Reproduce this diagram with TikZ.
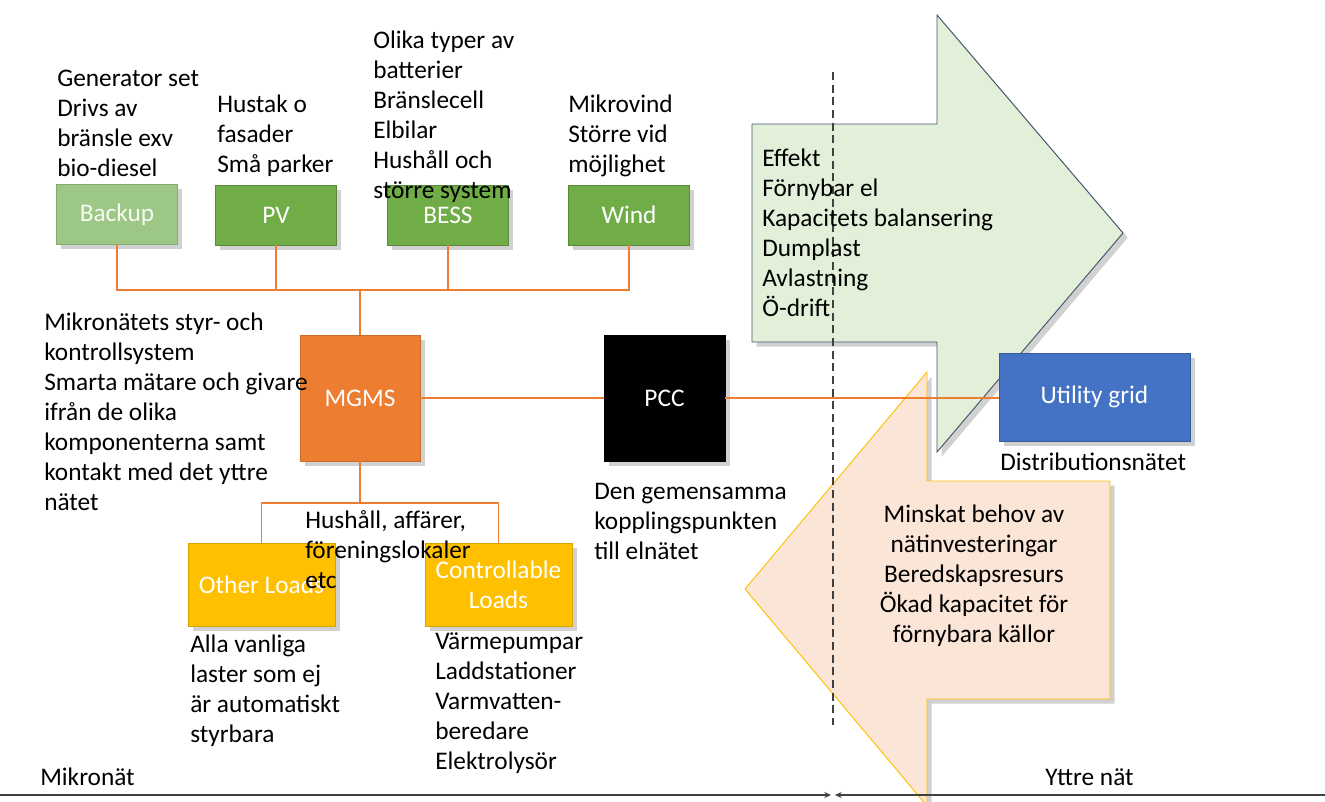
\documentclass[tikz,border=0pt]{standalone}
\usepackage{fontspec}
\setmainfont{Carlito}
\usetikzlibrary{arrows.meta,shadows}
\definecolor{cgreen}{HTML}{70AD47}
\definecolor{cbackup}{HTML}{9CC784}
\definecolor{corange}{HTML}{ED7D31}
\definecolor{cblue}{HTML}{4472C4}
\definecolor{cyellow}{HTML}{FFC000}
\definecolor{clgreen}{HTML}{E2F0D9}
\definecolor{cpeach}{HTML}{FBE5D6}
\definecolor{cslate}{HTML}{44546A}
\begin{document}
\begin{tikzpicture}[x=0.75pt,y=-0.75pt,
  shad/.style={drop shadow={shadow xshift=3.5pt,shadow yshift=-3.5pt,opacity=0.18,fill=black}},
  boxb/.style={shad,rectangle,inner sep=0pt,font=\fontsize{19}{22.5}\selectfont,text=white,align=center,line width=0.5pt},
  src/.style={boxb,minimum width=90.5pt,minimum height=45pt},
  txt/.style={inner sep=0pt,font=\fontsize{19}{22.5}\selectfont,align=left,anchor=west,text=black},
  conn/.style={draw=corange,line width=1.4pt},
  bline/.style={draw=black!75,line width=1.5pt}]
\useasboundingbox (0,0) rectangle (1325,801);

% big arrows
\draw[shad,fill=clgreen,draw=cslate,line width=0.7pt]
  (752,124) -- (937,124) -- (937,15) -- (1123,233) -- (937,452) -- (937,342) -- (752,342) -- cycle;
\draw[shad,fill=cpeach,draw=cyellow,line width=0.7pt]
  (1110,481) -- (927,481) -- (927,372) -- (745,589) -- (927,806) -- (927,699) -- (1110,699) -- cycle;

% source boxes
\node[src,fill=cbackup,draw=cbackup!85!black,text=white!92!cbackup] (backup) at (117,214.5) {Backup};
\node[src,fill=cgreen,draw=cgreen!80!black] (pv) at (276,215) {PV};
\node[src,fill=cgreen,draw=cgreen!80!black] (bess) at (448,215) {BESS};
\node[src,fill=cgreen,draw=cgreen!80!black] (wind) at (629,215) {Wind};

% central boxes
\node[boxb,fill=corange,draw=corange!85!black,minimum width=90pt,minimum height=94.5pt] (mgms) at (360,398) {MGMS};
\node[boxb,fill=black,draw=black,minimum width=90.75pt,minimum height=94.5pt] (pcc) at (664.5,398) {PCC};
\node[boxb,fill=cblue,draw=cblue!80!black,minimum width=143.25pt,minimum height=66pt] (grid) at (1094.5,397) {Utility grid};

% load boxes
\node[boxb,fill=cyellow,draw=cyellow!85!black,minimum width=110.25pt,minimum height=62.25pt] (other) at (261.5,584.5) {Other Loads};
\node[boxb,fill=cyellow,draw=cyellow!85!black,minimum width=110.25pt,minimum height=62.25pt] (ctrl) at (498.5,584.5) {Controllable\\Loads};

% connectors
\coordinate (bus) at (360,290);
\coordinate (lbus) at (360,503);
\draw[conn] (backup.south) |- (bus) -| (wind.south);
\draw[conn] (pv.south) -- (pv.south |- bus);
\draw[conn] (bess.south) -- (bess.south |- bus);
\draw[conn] (bus) -- (mgms.north);
\draw[conn] (mgms.south) -- (lbus);
\draw[conn] (other.north) |- (lbus) -| (ctrl.north);
\draw[conn] (mgms.east |- pcc.west) -- (pcc.west);
\draw[conn] (pcc.east) -- (pcc.east -| grid.west);

% dashed border
\coordinate (dtop) at (833,72);
\coordinate (dbot) at (833,725);
\draw[draw=black!75,line width=0.8pt,dash pattern=on 6pt off 3.5pt] (dtop) -- (dbot);

% bottom line
\coordinate (bl) at (0,795);
\coordinate (bm1) at (831,795);
\coordinate (bm2) at (835,795);
\coordinate (br) at (1325,795);
\draw[bline,-{Stealth[length=5pt,width=4.5pt]}] (bl) -- (bm1);
\draw[bline,-{Stealth[length=5pt,width=4.5pt]}] (br) -- (bm2);

% texts
\node[txt] (tgen) at (57,123) {Generator set\\Drivs av\\bränsle exv\\bio-diesel};
\node[txt] (tpv) at (217,136) {Hustak o\\fasader\\Små parker};
\node[txt] (tbess) at (373,117) {Olika typer av\\batterier\\Bränslecell\\Elbilar\\Hushåll och\\större system};
\node[txt] (twind) at (568,136) {Mikrovind\\Större vid\\möjlighet};
\node[txt] (teff) at (762,233) {Effekt\\Förnybar el\\Kapacitets balansering\\Dumplast\\Avlastning\\Ö-drift};
\node[txt] (tmgms) at (44,412) {Mikronätets styr- och\\kontrollsystem\\Smarta mätare och givare\\ifrån de olika\\komponenterna samt\\kontakt med det yttre\\nätet};
\node[txt] (thush) at (305,550) {Hushåll, affärer,\\föreningslokaler\\etc};
\node[txt] (tpcc) at (594,521) {Den gemensamma\\kopplingspunkten\\till elnätet};
\node[txt] (tdist) at (1000,462) {Distributionsnätet};
\node[txt,align=center,anchor=center] (tmin) at (974,576) {Minskat behov av\\nätinvesteringar\\Beredskapsresurs\\Ökad kapacitet för\\förnybara källor};
\node[txt] (talla) at (190,691) {Alla vanliga\\laster som ej\\är automatiskt\\styrbara};
\node[txt] (tvarm) at (435,703) {Värmepumpar\\Laddstationer\\Varmvatten-\\beredare\\Elektrolysör};
\node[txt] (tmikro) at (40,777) {Mikronät};
\node[txt] (tyttre) at (1045,777) {Yttre nät};
\end{tikzpicture}
\end{document}
